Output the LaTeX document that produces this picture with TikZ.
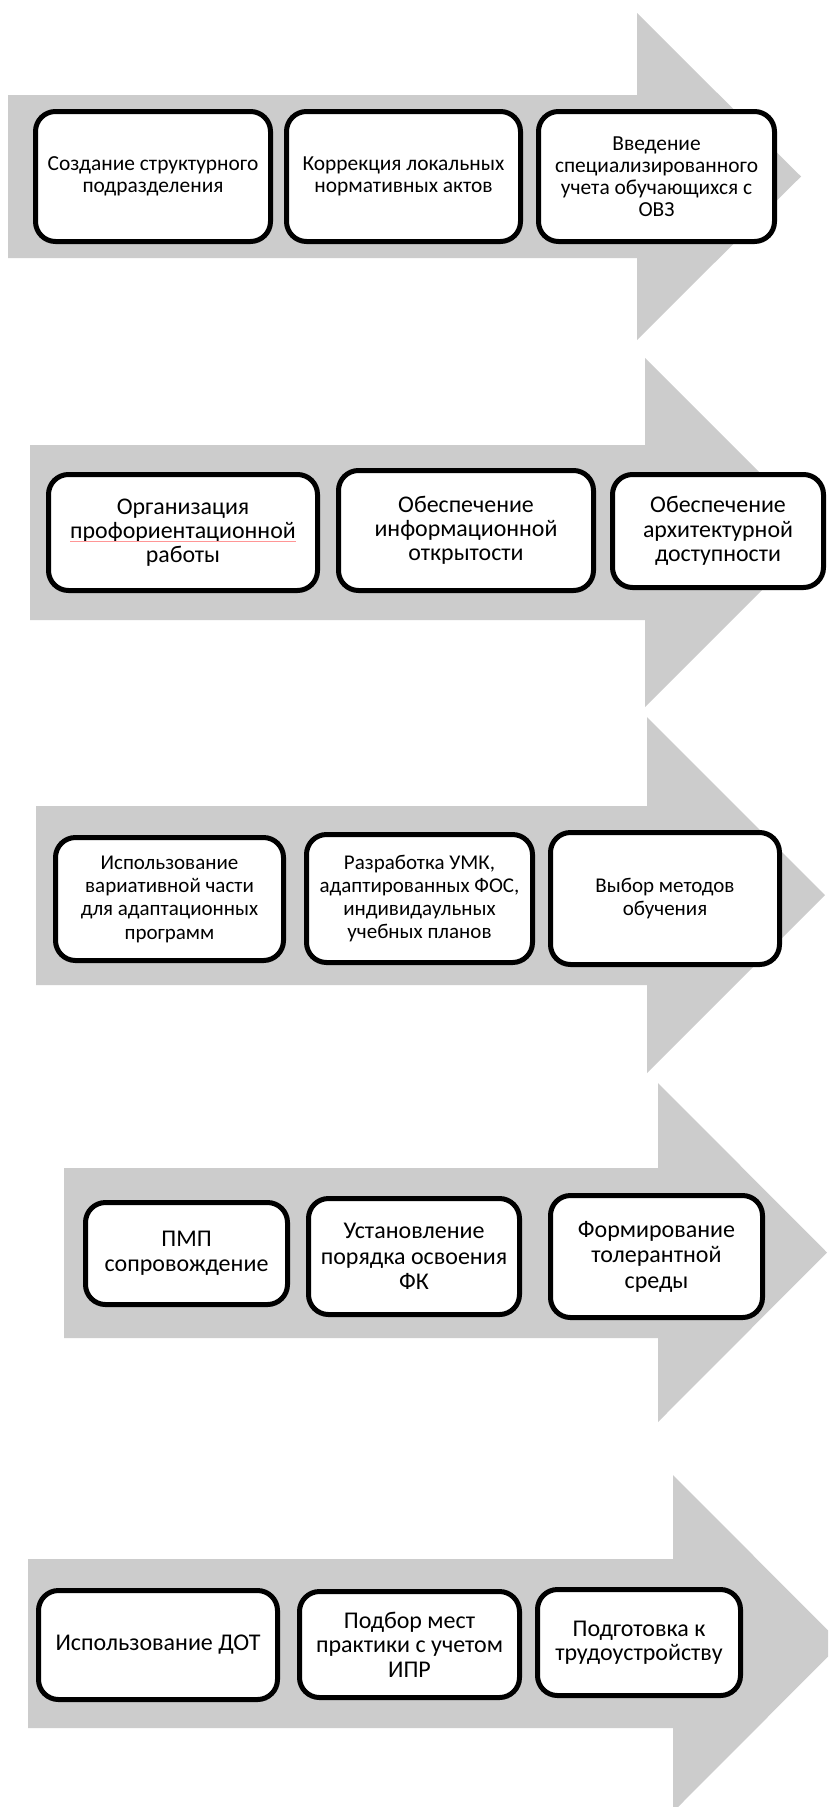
\documentclass[tikz,border=0pt]{standalone}
\usepackage{fontspec}
\setmainfont{Carlito}
\usepackage{xcolor}
\usepackage{tikz}

\definecolor{arrowgray}{RGB}{204,204,204}

\begin{document}
\begin{tikzpicture}[x=1pt, y=-1pt,
    box/.style={draw, line width=5pt, fill=white, rounded corners=20pt,
        inner sep=0pt, align=center},
    rowa/.style={font=\fontsize{21.4}{21.9}\selectfont},
    rowb/.style={font=\fontsize{23.9}{24.2}\selectfont},
    rowc/.style={font=\fontsize{21}{23.3}\selectfont},
    rowd/.style={font=\fontsize{24}{25.5}\selectfont},
    rowe/.style={font=\fontsize{24}{24.5}\selectfont}]
    \useasboundingbox (0,0) rectangle (828,1807);
    \clip (0,0) rectangle (828,1807);
    \fill[white] (0,0) rectangle (828,1807);

    % arrows
    \fill[arrowgray] (8,95) -- (637,95) -- (637,13) -- (801,176.5) -- (637,340) -- (637,258) -- (8,258) -- cycle;
    \fill[arrowgray] (30,445) -- (645,445) -- (645,358) -- (819.5,532.5) -- (645,707) -- (645,620) -- (30,620) -- cycle;
    \fill[arrowgray] (36,806) -- (647,806) -- (647,717) -- (825,895) -- (647,1073) -- (647,985) -- (36,985) -- cycle;
    \fill[arrowgray] (64,1168) -- (658,1168) -- (658,1083) -- (827,1252.5) -- (658,1422) -- (658,1338) -- (64,1338) -- cycle;
    \fill[arrowgray] (28,1559) -- (673,1559) -- (673,1475) -- (841,1643.5) -- (673,1812) -- (673,1728) -- (28,1728) -- cycle;

    % row 1
    \node[box, rowa, minimum width=235, minimum height=130] (struct) at (153,176.5)
        {Создание структурного\\подразделения};
    \node[box, rowa, minimum width=234, minimum height=130] (akty) at (403.5,176.5)
        {Коррекция локальных\\нормативных актов};
    \node[box, rowa, minimum width=236, minimum height=130] (uchet) at (656.5,176.5)
        {Введение\\специализированного\\учета обучающихся с\\ОВЗ};

    % row 2
    \node[box, rowb, minimum width=269, minimum height=116] (proforient) at (183,532.5)
        {Организация\\профориентационной\\работы};
    \node[box, rowb, minimum width=255, minimum height=120] (inform) at (466,530.5)
        {Обеспечение\\информационной\\открытости};
    \node[box, rowb, minimum width=211, minimum height=113] (arhit) at (718,531)
        {Обеспечение\\архитектурной\\доступности};
    \draw[color={rgb,255:red,255;green,150;blue,150}, line width=1pt] (70,541) -- (296,541);

    % row 3
    \node[box, rowc, minimum width=228, minimum height=123] (variat) at (169.5,899)
        {Использование\\вариативной части\\для адаптационных\\программ};
    \node[box, rowc, minimum width=226, minimum height=128] (umk) at (419.5,898.5)
        {Разработка УМК,\\адаптированных ФОС,\\индивидаульных\\учебных планов};
    \node[box, rowc, minimum width=229, minimum height=132] (metody) at (665,898.5)
        {Выбор методов\\обучения};

    % row 4
    \node[box, rowd, minimum width=202, minimum height=102] (pmp) at (186.5,1253.5)
        {ПМП\\сопровождение};
    \node[box, rowd, minimum width=211, minimum height=116] (fk) at (414,1256.5)
        {Установление\\порядка освоения\\ФК};
    \node[box, rowd, minimum width=212, minimum height=122] (toler) at (656.5,1256.5)
        {Формирование\\толерантной\\среды};

    % row 5
    \node[box, rowe, minimum width=239, minimum height=109] (dot) at (158,1645)
        {Использование ДОТ};
    \node[box, rowe, minimum width=220, minimum height=106] (praktika) at (409.5,1644.5)
        {Подбор мест\\практики с учетом\\ИПР};
    \node[box, rowe, minimum width=203, minimum height=106] (trud) at (639,1642.5)
        {Подготовка к\\трудоустройству};
\end{tikzpicture}
\end{document}
